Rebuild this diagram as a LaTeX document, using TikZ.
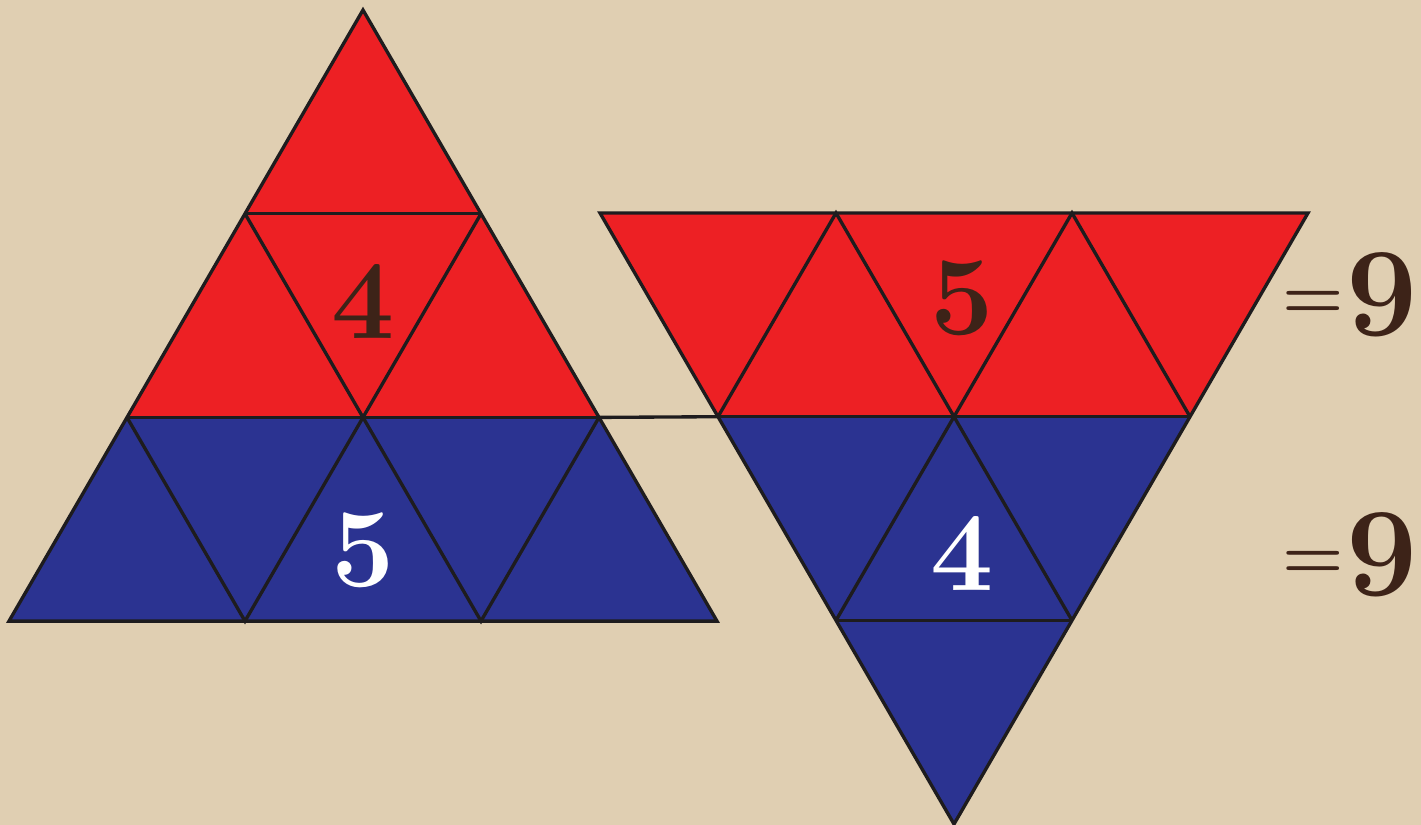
\documentclass[tikz,border=0pt]{standalone}
\usepackage{fontspec}
\usetikzlibrary{calc}
\definecolor{myred}{RGB}{237, 32, 36}
\definecolor{myblue}{RGB}{43, 51, 145}
\definecolor{mybrown}{RGB}{61, 35, 24}
\definecolor{myparch}{RGB}{224, 207, 178}
\definecolor{myline}{RGB}{30, 28, 30}

\begin{document}
\begin{tikzpicture}[x=0.02cm, y=-0.02cm,
    edge/.style={myline, line width=1.9pt},
    digit/.style={font=\fontsize{64}{64}\selectfont\bfseries, inner sep=0pt}]

    % --- Marco y fondo de pergamino ---
    \useasboundingbox (0,0) rectangle (1421,825);
    \fill[myparch] (0,0) rectangle (1421,825);

    % --- Parámetros globales ---
    \def\s{236}   % Lado de un triángulo pequeño
    \def\h{203.7} % Altura de cada fila

    % --- Vértices de las dos mallas (fila k, posición j) ---
    \foreach \k in {0,...,3}{
        % Triángulo izquierdo (punta arriba)
        \foreach \j in {0,...,\k}{
            \coordinate (L\k\j) at ({363-\s/2*\k+\s*\j}, {10+\h*\k});
        }
        % Triángulo derecho (punta abajo)
        \pgfmathtruncatemacro{\n}{3-\k}
        \foreach \j in {0,...,\n}{
            \coordinate (R\k\j) at ({600+\s/2*\k+\s*\j}, {213+\h*\k});
        }
    }

    % 1. Rellenos rojo y azul
    \fill[myred] (L00) -- (L22) -- (L20) -- cycle;
    \fill[myblue] (L20) -- (L22) -- (L33) -- (L30) -- cycle;
    \fill[myred] (R00) -- (R03) -- (R12) -- (R10) -- cycle;
    \fill[myblue] (R10) -- (R12) -- (R30) -- cycle;

    % 2. Contornos y líneas interiores
    \draw[edge] (L00) -- (L33) -- (L30) -- cycle;
    \draw[edge] (L10) -- (L11) (L20) -- (L22);
    \draw[edge] (L10) -- (L21) -- (L11);
    \draw[edge] (L20) -- (L31) -- (L21) -- (L32) -- (L22);

    \draw[edge] (R00) -- (R03) -- (R30) -- cycle;
    \draw[edge] (R10) -- (R12) (R20) -- (R21);
    \draw[edge] (R10) -- (R01) -- (R11) -- (R02) -- (R12);
    \draw[edge] (R20) -- (R11) -- (R21);

    % 3. Unión entre las dos figuras
    \draw[edge] (L22) -- (R10);

    % --- Números dentro de los triángulos ---
    \node[digit, mybrown] (fourL) at ($(L10)!0.5!(L11)!0.43!(L21)$) {4};
    \node[digit, white] (fiveL) at ($(L31)!0.5!(L32)!0.35!(L21)$) {5};
    \node[digit, mybrown] (fiveR) at ($(R01)!0.5!(R02)!0.42!(R11) + (8,0)$) {5};
    \node[digit, white] (fourR) at ($(R20)!0.5!(R21)!0.33!(R11) + (8,0)$) {4};

    % --- Totales de cada fila ---
    \node[digit, mybrown] (sumtop) at (1350, 295)
        {\raisebox{10pt}{\fontsize{40}{40}\selectfont=}\kern1pt\fontsize{72}{72}\selectfont 9};
    \node[digit, mybrown] (sumbot) at (1350, 555)
        {\raisebox{10pt}{\fontsize{40}{40}\selectfont=}\kern1pt\fontsize{72}{72}\selectfont 9};

\end{tikzpicture}
\end{document}
